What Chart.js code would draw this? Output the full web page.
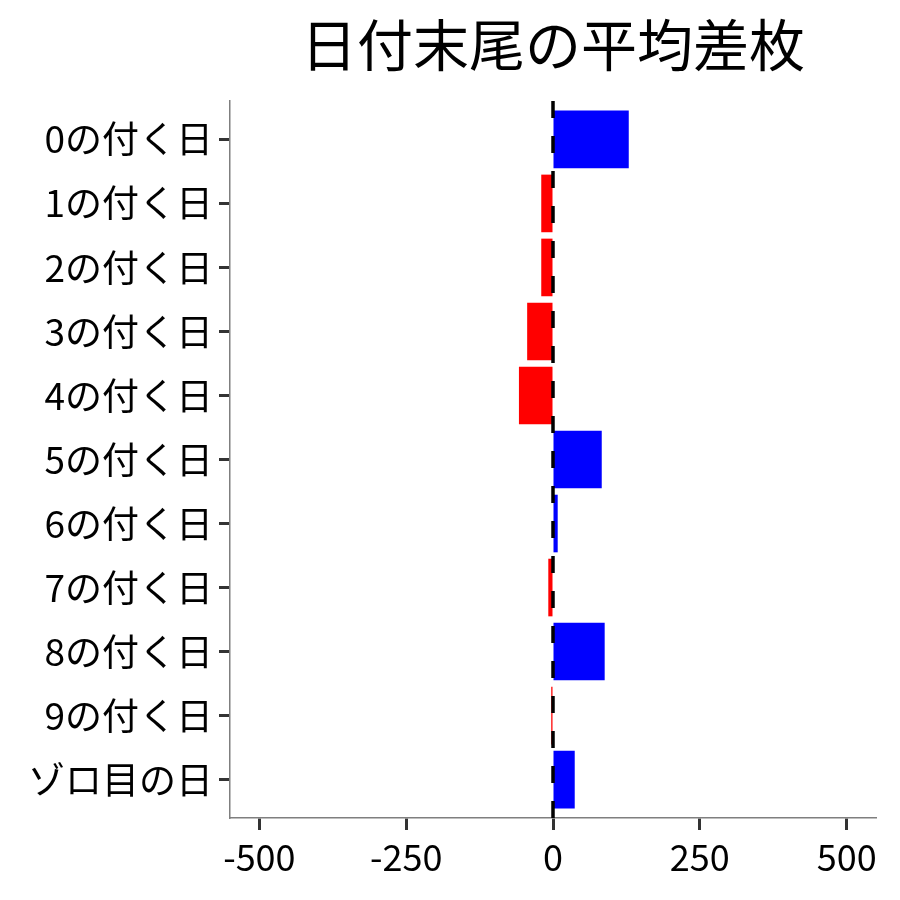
<!DOCTYPE html>
<html>
<head>
<meta charset="utf-8">
<script src="https://cdn.jsdelivr.net/npm/chart.js@4"></script>
<style>
  html, body { margin: 0; padding: 0; background: #fff; }
</style>
</head>
<body>
<canvas id="c" width="900" height="900"></canvas>
<script>
const title = "日付末尾の平均差枚";
const categories = [
  "0の付く日", "1の付く日", "2の付く日", "3の付く日", "4の付く日",
  "5の付く日", "6の付く日", "7の付く日", "8の付く日", "9の付く日", "ゾロ目の日",
];
const avgDiff = [129, -20, -20, -44, -58, 83, 8, -8, 88, -3, 37];
const xTicks = [-500, -250, 0, 250, 500];

const FONT = "'Noto Sans CJK JP', 'Noto Sans', sans-serif";

// title centred over the panel, and the dashed zero line on top of the bars
const extras = {
  id: "extras",
  afterDatasetsDraw(chart) {
    const { ctx, chartArea: a, scales: { x } } = chart;
    const x0 = x.getPixelForValue(0);
    ctx.save();
    ctx.strokeStyle = "#000";
    ctx.lineWidth = 3.5;
    ctx.setLineDash([17, 18]);
    ctx.beginPath();
    ctx.moveTo(x0, a.bottom);
    ctx.lineTo(x0, a.top);
    ctx.stroke();
    ctx.restore();
  },
  afterDraw(chart) {
    const { ctx, chartArea: a } = chart;
    ctx.save();
    ctx.fillStyle = "#000";
    ctx.font = `56px ${FONT}`;
    ctx.textAlign = "center";
    ctx.textBaseline = "middle";
    ctx.fillText(title, (a.left + a.right) / 2, 45);
    ctx.restore();
  },
};

new Chart(document.getElementById("c"), {
  type: "bar",
  data: {
    labels: categories,
    datasets: [
      {
        data: avgDiff,
        backgroundColor: avgDiff.map((v) => (v >= 0 ? "#0000ff" : "#ff0000")),
        borderWidth: 0,
        barPercentage: 0.9,
        categoryPercentage: 1,
      },
    ],
  },
  options: {
    indexAxis: "y",
    responsive: false,
    animation: false,
    devicePixelRatio: 1,
    layout: { padding: { top: 101, right: 24, left: 0, bottom: 0 } },
    plugins: {
      legend: { display: false },
      tooltip: { enabled: false },
      title: { display: false },
    },
    scales: {
      x: {
        type: "linear",
        min: -550,
        max: 550,
        afterBuildTicks: (s) => {
          s.ticks = xTicks.map((v) => ({ value: v }));
        },
        afterFit: (s) => {
          s.height = 82;
        },
        grid: {
          drawOnChartArea: false,
          drawTicks: true,
          tickLength: 12,
          tickWidth: 3,
          tickColor: "#333",
        },
        border: { display: true, color: "#7f7f7f", width: 1.5 },
        ticks: {
          color: "#000",
          padding: 6,
          maxRotation: 0,
          font: { family: FONT, size: 36 },
        },
      },
      y: {
        type: "category",
        offset: true,
        // widen the end gaps a little (0.6 of a step instead of 0.5)
        afterBuildTicks: (s) => {
          s._startValue = -0.6;
          s._valueRange = categories.length - 1 + 1.2;
        },
        afterFit: (s) => {
          s.width = 230;
        },
        grid: {
          offset: false,
          drawOnChartArea: false,
          drawTicks: true,
          tickLength: 11,
          tickWidth: 3,
          tickColor: "#333",
        },
        border: { display: true, color: "#7f7f7f", width: 1.5 },
        ticks: {
          color: "#000",
          padding: 6,
          font: { family: FONT, size: 37 },
        },
      },
    },
  },
  plugins: [extras],
});
</script>
</body>
</html>
